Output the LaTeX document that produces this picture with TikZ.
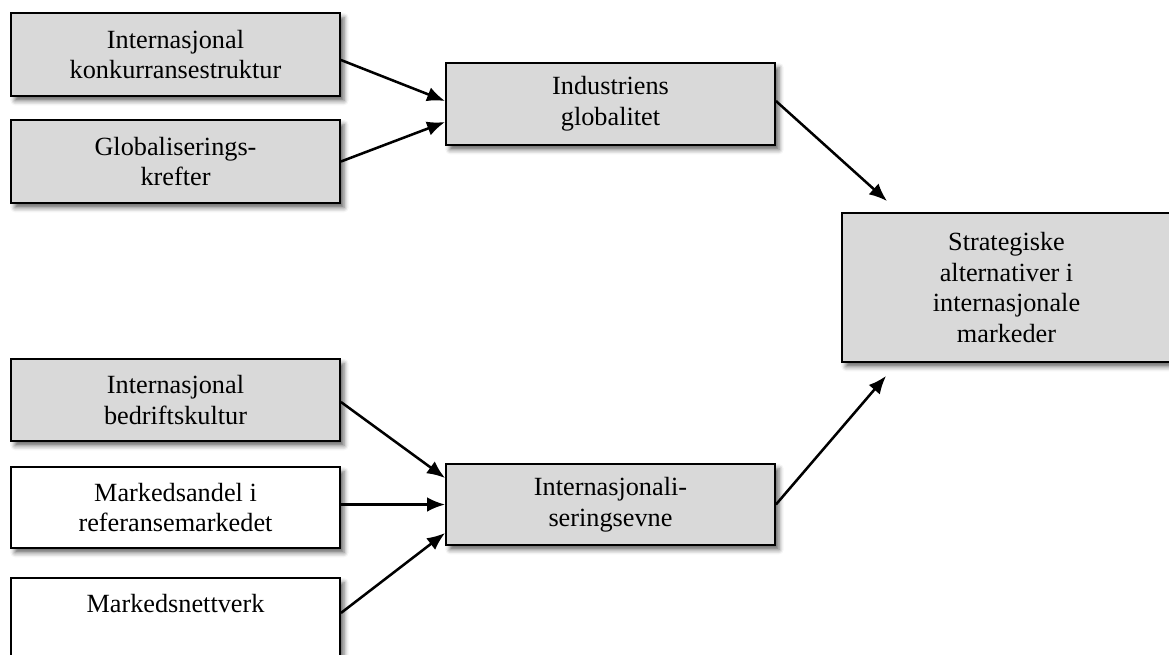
\documentclass[tikz,border=0pt]{standalone}
\usepackage{fontspec}
\setmainfont{Liberation Serif}
\usetikzlibrary{arrows.meta,calc,shadows.blur}
\definecolor{boxgray}{RGB}{217,217,217}
\tikzset{
  factor/.style={draw=black, line width=1.4pt, inner sep=0pt,
    minimum width=329*0.75pt, minimum height=82*0.75pt,
    align=center, font=\fontsize{19.7}{23}\selectfont,
    blur shadow={shadow xshift=3pt, shadow yshift=-3.5pt,
      shadow blur radius=3.5pt, shadow opacity=60}},
  shaded/.style={factor, fill=boxgray},
  plain/.style={factor, fill=white},
  link/.style={line width=1.9pt, -{Latex[length=13.5pt,width=11pt]}}
}
\begin{document}
\begin{tikzpicture}[x=0.75pt, y=-0.75pt]
  \useasboundingbox (0,0) rectangle (1169,654);
  % global drivers
  \node[shaded, minimum height=83*0.75pt] (A) at (175.5,54.5) {Internasjonal\\konkurransestruktur};
  \node[shaded, minimum height=83*0.75pt] (B) at (175.5,161.5) {Globaliserings-\\krefter};
  \node[shaded] (C) at (610.5,104) {Industriens\\globalitet};
  % outcome
  \node[shaded, minimum height=149*0.75pt] (D) at (1006.5,287.5)
    {Strategiske\\alternativer i\\internasjonale\\markeder};
  % firm-level drivers
  \node[shaded] (E) at (175.5,400) {Internasjonal\\bedriftskultur};
  \node[plain, minimum height=81*0.75pt] (F) at (175.5,507.5) {Markedsandel i\\referansemarkedet};
  \node[plain] (G) at (175.5,619) {Markedsnettverk\\\phantom{k}};
  \node[shaded, minimum height=81*0.75pt] (H) at (610.5,504.5) {Internasjonali-\\seringsevne};

  % connectors
  \draw[link] ($(A.east)+(0,5.5)$) -- ($(C.west)+(0,-3)$);
  \draw[link] (B.east) -- ($(C.west)+(0,18)$);
  \draw[link] ($(C.east)+(0,-3)$) -- ($(D.north west)+(46,-11)$);
  \draw[link] (H.east) -- ($(D.south west)+(45,13)$);
  \draw[link] ($(E.east)+(0,2)$) -- ($(H.west)+(0,-26.5)$);
  \draw[link] (F.east |- H.west) -- (H.west);
  \draw[link] ($(G.east)+(0,-6)$) -- ($(H.west)+(0,28.5)$);
\end{tikzpicture}
\end{document}
